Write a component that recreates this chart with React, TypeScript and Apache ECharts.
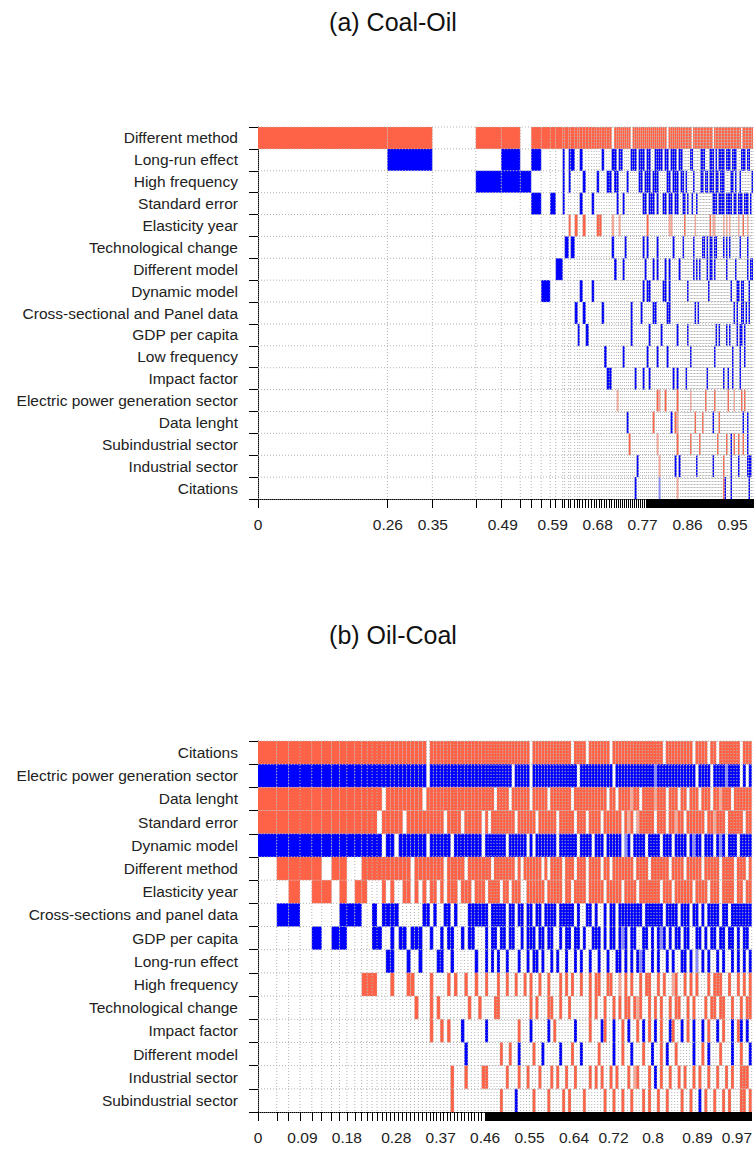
import React, { useEffect, useRef } from "react";
import * as echarts from "echarts";

// ---------------- Panel (a) Coal-Oil ----------------
const coalOilTitle = "(a) Coal-Oil";
const coalOilVars = [
  "Different method",
  "Long-run effect",
  "High frequency",
  "Standard error",
  "Elasticity year",
  "Technological change",
  "Different model",
  "Dynamic model",
  "Cross-sectional and Panel data",
  "GDP per capita",
  "Low frequency",
  "Impact factor",
  "Electric power generation sector",
  "Data lenght",
  "Subindustrial sector",
  "Industrial sector",
  "Citations",
];
// posterior model probabilities (column widths), best model first
const coalOilPmp = [
  0.259, 0.09, 0.087, 0.051, 0.038, 0.022, 0.02, 0.018, 0.011, 0.014,
  0.004, 0.008, 0.004, 0.008, 0.006, 0.004, 0.006, 0.006,
  0.006, 0.006, 0.005, 0.005, 0.005, 0.005, 0.005, 0.005, 0.005, 0.005, 0.005, 0.005, 0.004,
  0.004, 0.004, 0.004, 0.004, 0.004, 0.004, 0.004, 0.004, 0.004, 0.004,
  0.004, 0.004, 0.004, 0.004, 0.004, 0.004, 0.004, 0.004, 0.004, 0.004,
  0.004, 0.004, 0.004, 0.004, 0.004, 0.004, 0.004, 0.004, 0.004, 0.004,
  0.004, 0.004,
  0.003, 0.003, 0.003, 0.003, 0.003, 0.003, 0.003, 0.003, 0.003, 0.003,
  0.003, 0.003, 0.003, 0.003, 0.003, 0.003, 0.003, 0.003, 0.003, 0.003,
  0.003, 0.003, 0.003, 0.003, 0.003, 0.003, 0.003, 0.003, 0.003, 0.003,
  0.003, 0.003, 0.003, 0.003, 0.003, 0.003, 0.003, 0.003, 0.003, 0.003,
  0.003, 0.003, 0.003, 0.003, 0.003, 0.003, 0.003,
];
// inclusion per variable and model: R = positive (red), B = negative (blue), lower case = faint, . = not included
const coalOilIncl = [
  "RR.RR.RRRR RRRRRRRRRR RRRRRRRR.R RRRRRRR.RR RRRRRRRRRR RRRRR.RRRR RRRRRRRRR. RRRRRRRRRR RRR.RRRRRR RRRRRRRRRR RR.RRRRRRR",
  ".B..B.B... B.BB..B... ....B...BB .BB....BBB .BBB.BB..B BBB.BB.BBB .BB.....BB .....BBB.. .BBB.B.BBB B.BBB.BBB. ..BBB.BB..",
  "...BBB.... B.B....B.. ..B...BB.B B....B.... .BB.BBB.BB B....BB.BB B.BB.B.... B....BB.BB .BBB.BB.BB B....BB.B. .B.......B",
  "......B.B. B.....B... B......... B..B...... ...BB.BBB. B..BB.BB.B B..BB.B..B ..B....... ...BBB.BBB B.BBBB.BB. BBB.BBB.B.",
  ".......... ..R.R..R.. ..RR....r. .r........ .....R.... ......rr.. ....R..... .r........ .R.rr..... r.r.r..... r..R..r...",
  ".......... .B.B...... ........B. ....B..... ...B.B.... B.......B. ...B...... B.....BB.B .BB.BB.... B.B.B..... .B....B...",
  ".........B .......... .........B ...B...... ....B...B. B...B.B... .B........ B.B.B....B .BB.B..... ..B.....B. ......B.BB",
  ".......B.. ......B... B......... .......... ...B.BB... ...BB.B... ......B... .......... B......... .....B...B B.BB...B..",
  ".......... ....B..B.. ....B..... .......B.. ..B.....BB .....BB... .......... .B.B...... .......... .......B.B ..BB.B.B..",
  ".......... .....B..B. .......... .......B.. ......B... ..B....... B.....B... .......... .....B.B.. ..B.B....B .BB.B.....",
  ".......... .......... .....B.... ...B...... .....B.... B....B.... ........B. .......... ....B..... ......B... .B..B.....",
  ".......... .......... ......BB.. .........B ...B..B... ........B. B....B.... .........B .......... B..B..B... .B........",
  ".......... .......... .......... r......... .......... Rr..R..... R.......r. ........R. ....R..... ...R...r.. ..R.R.....",
  ".......... .......... .......... .....B.... ........R. .......B.R r......... .R....R... ...B...R.. .......... ...B..B...",
  ".......... .......... .......... ......R... .......... r......... R.......R. ....R..... ......R... ..R..B.R.. R..R..B...",
  ".......... .......... .......... .......... B......... .r.......B .B........ ..B....... ...B...... R....B.... B.....BBB.",
  ".......... .......... .......... .........B .......... .b........ r......... .......... .......... RB...B.... .......B..",
];
const coalOilTickLabels = [0, 0.26, 0.35, 0.49, 0.59, 0.68, 0.77, 0.86, 0.95];
const coalOilDenseTicksFrom = 0.777;

// ---------------- Panel (b) Oil-Coal ----------------
const oilCoalTitle = "(b) Oil-Coal";
const oilCoalVars = [
  "Citations",
  "Electric power generation sector",
  "Data lenght",
  "Standard error",
  "Dynamic model",
  "Different method",
  "Elasticity year",
  "Cross-sections and panel data",
  "GDP per capita",
  "Long-run effect",
  "High frequency",
  "Technological change",
  "Impact factor",
  "Different model",
  "Industrial sector",
  "Subindustrial sector",
];
const oilCoalPmp = [
  0.038, 0.024, 0.023, 0.024, 0.02, 0.02, 0.016, 0.015, 0.016, 0.014,
  0.011, 0.01, 0.01, 0.01, 0.008, 0.009, 0.008, 0.009,
  0.008, 0.008, 0.008, 0.008, 0.008, 0.008, 0.008,
  0.007, 0.007, 0.007, 0.007, 0.007, 0.007, 0.007,
  0.007, 0.007, 0.007, 0.007, 0.007, 0.007, 0.007, 0.007, 0.007, 0.007,
  0.006, 0.006, 0.006, 0.006, 0.006, 0.006, 0.006, 0.006, 0.006, 0.006,
  0.006, 0.006, 0.006, 0.006, 0.006, 0.006, 0.006, 0.006, 0.006, 0.006,
  0.006, 0.006, 0.006, 0.006, 0.006, 0.006, 0.006, 0.006, 0.006, 0.006,
  0.006, 0.006, 0.006, 0.006, 0.006, 0.006, 0.006, 0.006, 0.006, 0.006,
  0.006, 0.006, 0.006, 0.006, 0.006, 0.006, 0.006, 0.006, 0.006, 0.006,
  0.006, 0.006, 0.006, 0.006, 0.006, 0.006, 0.006, 0.006, 0.006, 0.006,
  0.006, 0.006, 0.006, 0.006, 0.006, 0.006, 0.006, 0.006, 0.006, 0.006,
  0.006, 0.006, 0.006, 0.006, 0.006, 0.006, 0.006, 0.006, 0.006, 0.006,
  0.006, 0.006, 0.006, 0.006, 0.006, 0.006, 0.006, 0.006, 0.006, 0.006,
];
const oilCoalIncl = [
  "RRRRRRRRRR RRRRRRRRRR RRRRR.RRRR RRRRRRRRRR RRRRRRRRRR RRRRRRR.RR RRRRRRRRRR R.RRRR.RRR RRRR.RRRRR RRRRRRRRRR RR.RRRRRRR RR.RRRR.RR .RRRRRRR.R RR",
  "BBBBBBBBBB BBBBBBBBBB BBBBB.BBBB BBBBBBBBBB BBBBBBBBBB B.BBBBB.BB BBBBBBBBBB BBB.BBBBBB BBBBB.BBBB BBBBBBBBBb BBBBBBBBBB BBB.BBBB.B BBBbBBBB.B .B",
  "RRRRRRRRRR RRRR.RRRRR RRRR.RRRRR RRRRRRRRRR RRRRR.RRRR .RRRRRR.RR RRR.RRRRRR R.RRRRRRRR RRR.RR.RRR RrRR.RRRRr RRR.RRR.RR .RRR.RRR.R RrRRR.RRRR RR",
  "RRRRRRRRRR RRR.RRRRR. RRRRRRRRRR .RRRR.RRRR R.R.RRRRRR RR.RRRRRR. RRRRRR.RRR RR.RRR.RRR R.RRRRRR.R rR.rRRRRR. RRR.RRrRR. RRRRRR.RRr RRR.RRRRR. RR",
  "BBBBBBBBBB BBBB.BB.BB BBBBB.BBBB BB.BBBBBBB B.BBBBBBB. BBBBBB.B.B BBBBBB.BBB BBB.BBBB.B BB.BBBBB.b B.BBBB.BBB B.BBB.BBBB .BbBB.BBB. BbB.BBB.BB BB",
  ".RRRR.RR.. RRRRRRRRRR R.RRRRRRRR .RRRRR.RRR RRRR.RRRRR RR.R.RRRRR R.R.RRRR.R RR.RRR.RRR R.RR.RRRRR RR.RRRR.RR RRRR.RRRR. RRRRR.RRRR R.RRRR.RRR .R",
  "..R.RR.R.R R...R.R..R R.R.R.RR.R .RRR.RRR.R RR.RRRR.RR .RRR..RRRR RR.RRRRR.R R.RRRR.RRR RR.RRRRR.R RRR.RRRRRR R.RRR.RRRR RR.RRRR.RR R.RRRR.RR. RR",
  ".BB....BBB ..B.BBBB.. ....BB.B.. BB.B...BBB BBB.BBBBB. BB.BB.BB.B B.BBBB.BBB BB.B..BB.B ..B.BB.BBB BBBBB.BBBB BB.BBBB.BB B.BB.B.BBB B.BB.BBBBB BB",
  "....B.BB.. ..BB..B.BB .BBB..B..B .BB..B.BB. ..B.BB.BB. BB..B.BBB. BB.BB..B.B B.BB.B..BB B.B.BB.BbB .BB..BB.B. BbB.B.BB.B B..BB.B.BB .BB.BB.B.B B.",
  ".......... .....BB... B..B....BB ..B......B ..B.B.B..B ...B..B.BB .B..B.B..B ..B.B..B.. B..B..BB.B .B.BbB..B. B..B.B..BB .B.b.B.B.. B.B..B.B.B .B",
  ".......... RRR...R... RR....R... .R.R..R..R ..R...R..R ..R..R.R.. R..R...R.R .R..R..R.R R..RR..r.R .R..R.RR.. R.R..rR..R .R.R...R.R RR..R..R.R .R",
  ".......... .......... ..R...R.R. .......R.. R....RR... .......R.R ...RR..R.. R......R.R ..R..R.R.R R.RrR..R.R .R..R.RR.. R.R...R.RR .RR..R..R. RR",
  ".......... .......... ......R..R .R...B.... ..B....... ...R...B.. ...B.R.... ..B....R.. .BR..B..R. B..R.B.R.B .R..BR..B. R.B..B.R.. B.R..B.RB. B.",
  ".......... .......... .......... ......B... .......R.. R..B....R. .B.....B.. .R..B..... R....B..R. .B...R..B. .R.B..R... ..B..R.B.. .R...B..R. .B",
  ".......... .......... .......... ..R...R... .RR......R ...R..R... R...R.R..R ..R....R.R .R..R.R... R.rR...R.B .R..R..R.R ..R.R..R.. R..R.R..RR R.",
  ".......... .......... .......... ..R....... .......R.. ..B.....R. ...R....R. R....R.... ..R..R..R. .R...R.R.. R..R....R. .R..B.R..R ..R.R...RR .R",
];
const oilCoalTickLabels = [0, 0.09, 0.18, 0.28, 0.37, 0.46, 0.55, 0.64, 0.72, 0.8, 0.89, 0.97];
const oilCoalDenseTicksFrom = 0.46;

// ---------------- rendering ----------------
const FONT = "'Liberation Sans', Arial, Helvetica, sans-serif";
const SIGN_COLORS: Record<string, string> = {
  R: "#ff6347",
  r: "#f9a898",
  B: "#0000ff",
  b: "#8a8aff",
};

function buildPanel(
  idx: number,
  vars: string[],
  pmp: number[],
  incl: string[],
  tickLabels: number[],
  denseFrom: number
) {
  const bounds: number[] = [0];
  for (const w of pmp) bounds.push(Math.round((bounds[bounds.length - 1] + w) * 1e6) / 1e6);
  const total = bounds[bounds.length - 1];
  const cells: number[][] = [];
  const cellColors: string[] = [];
  incl.forEach((s, v) => {
    const chars = s.replace(/\s+/g, "");
    for (let c = 0; c < pmp.length; c++) {
      const ch = chars[c];
      if (ch && SIGN_COLORS[ch]) {
        cells.push([bounds[c], bounds[c + 1], v]);
        cellColors.push(SIGN_COLORS[ch]);
      }
    }
  });

  const xAxis = {
    gridIndex: idx,
    type: "value",
    min: 0,
    max: total,
    axisLine: { show: true, onZero: false, lineStyle: { color: "#000", type: "dotted", width: 1 } },
    axisTick: { show: true, customValues: bounds, length: 9, lineStyle: { color: "#000", width: 1 } },
    axisLabel: {
      show: true,
      customValues: tickLabels,
      formatter: (v: number) => String(v),
      margin: 17,
      fontSize: 15.5,
      color: "#222",
      fontFamily: FONT,
    },
    splitLine: { show: false },
  };
  const yAxis = {
    gridIndex: idx,
    type: "category",
    data: vars,
    inverse: true,
    axisLine: { show: true, lineStyle: { color: "#000", type: "dotted", width: 1 } },
    axisTick: { show: true, length: 9, lineStyle: { color: "#000", width: 1 } },
    axisLabel: { interval: 0, margin: 20, fontSize: 15.5, color: "#222", fontFamily: FONT },
    splitLine: { show: false },
  };

  const series = [
    {
      type: "custom",
      xAxisIndex: idx,
      yAxisIndex: idx,
      z: 2,
      encode: { x: [0, 1], y: 2 },
      data: cells,
      renderItem: (params: any, api: any) => {
        const row = api.value(2);
        const a = api.coord([api.value(0), row]);
        const b = api.coord([api.value(1), row]);
        const h = api.size([0, 1])[1];
        return {
          type: "rect",
          shape: { x: a[0], y: a[1] - h / 2, width: Math.max(b[0] - a[0], 0.6), height: h },
          style: { fill: cellColors[params.dataIndex] },
        };
      },
    },
    {
      type: "custom",
      xAxisIndex: idx,
      yAxisIndex: idx,
      z: 3,
      encode: { x: 0, y: 1 },
      data: bounds.slice(1).map((b) => [b, 0]),
      renderItem: (params: any, api: any) => {
        const cs = params.coordSys;
        const p = api.coord([api.value(0), 0]);
        return {
          type: "line",
          shape: { x1: p[0], y1: cs.y, x2: p[0], y2: cs.y + cs.height },
          style: { stroke: "#b4b4b4", lineWidth: 1, lineDash: [1, 2] },
        };
      },
    },
    {
      type: "custom",
      xAxisIndex: idx,
      yAxisIndex: idx,
      z: 3,
      encode: { x: 0, y: 1 },
      data: vars.map((_, i) => [0, i]),
      renderItem: (params: any, api: any) => {
        const cs = params.coordSys;
        const p = api.coord([0, api.value(1)]);
        const h = api.size([0, 1])[1];
        const y = p[1] - h / 2;
        return {
          type: "line",
          shape: { x1: cs.x, y1: y, x2: cs.x + cs.width, y2: y },
          style: { stroke: "#b4b4b4", lineWidth: 1, lineDash: [1, 2] },
        };
      },
    },
    {
      type: "custom",
      xAxisIndex: idx,
      yAxisIndex: idx,
      z: 4,
      clip: false,
      encode: { x: 0, y: 1 },
      data: [[denseFrom, 0]],
      renderItem: (params: any, api: any) => {
        const cs = params.coordSys;
        const p = api.coord([api.value(0), 0]);
        return {
          type: "rect",
          shape: { x: p[0], y: cs.y + cs.height, width: cs.x + cs.width - p[0], height: 9 },
          style: { fill: "#000" },
        };
      },
    },
  ];
  return { xAxis, yAxis, series };
}

export default function App() {
  const ref = useRef<HTMLDivElement>(null);
  useEffect(() => {
    if (!ref.current) return;
    const chart = echarts.init(ref.current, undefined, { renderer: "svg" });
    const a = buildPanel(0, coalOilVars, coalOilPmp, coalOilIncl, coalOilTickLabels, coalOilDenseTicksFrom);
    const b = buildPanel(1, oilCoalVars, oilCoalPmp, oilCoalIncl, oilCoalTickLabels, oilCoalDenseTicksFrom);
    chart.setOption({
      animation: false,
      backgroundColor: "#fff",
      grid: [
        { left: 258, top: 127, width: 495, height: 372, containLabel: false },
        { left: 258, top: 741, width: 495, height: 371, containLabel: false },
      ],
      xAxis: [a.xAxis, b.xAxis],
      yAxis: [a.yAxis, b.yAxis],
      series: [...a.series, ...b.series],
      graphic: [
        {
          type: "text",
          x: 393,
          y: 22,
          style: { text: coalOilTitle, fontSize: 25, fontFamily: FONT, fill: "#111", align: "center", verticalAlign: "middle" },
        },
        {
          type: "text",
          x: 393,
          y: 635,
          style: { text: oilCoalTitle, fontSize: 25, fontFamily: FONT, fill: "#111", align: "center", verticalAlign: "middle" },
        },
      ],
    });
    return () => chart.dispose();
  }, []);
  return (
    <div
      ref={ref}
      style={{ position: "absolute", left: 0, top: 0, width: 755, height: 1153, background: "#fff" }}
    />
  );
}
